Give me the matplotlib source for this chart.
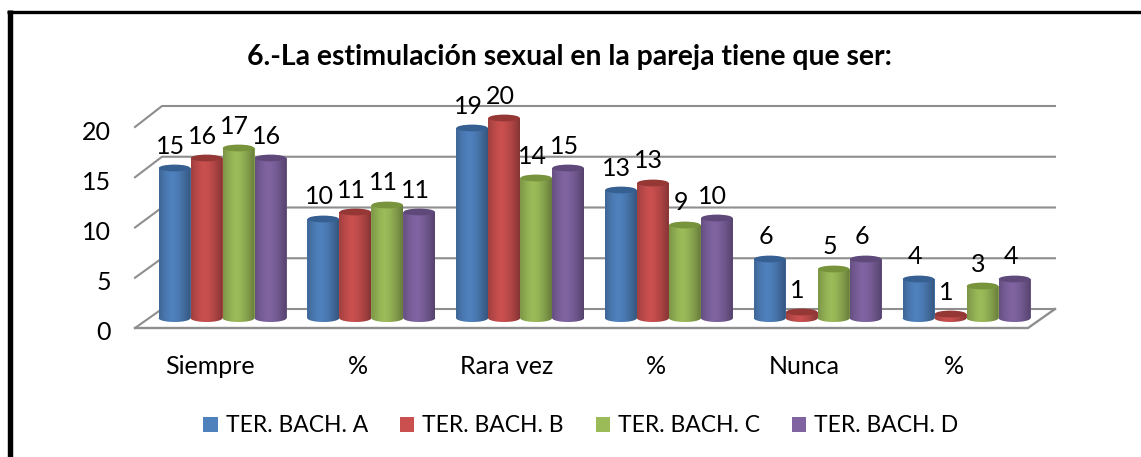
import numpy as np
import matplotlib
matplotlib.use('Agg')
import matplotlib.pyplot as plt
from matplotlib.patches import Ellipse, Polygon, Rectangle
from matplotlib.lines import Line2D

plt.rcParams['font.family'] = ['Lato', 'DejaVu Sans']

title = '6.-La estimulación sexual en la pareja tiene que ser:'
categories = ['Siempre', '%', 'Rara vez', '%', 'Nunca', '%']
series_names = ['TER. BACH. A', 'TER. BACH. B', 'TER. BACH. C', 'TER. BACH. D']
y_ticks = [0, 5, 10, 15, 20]

# heights
bach_a = [15, 9.9, 19, 12.8, 5.9, 3.9]
bach_b = [16, 10.6, 20, 13.5, 0.6, 0.4]
bach_c = [17, 11.3, 14, 9.3, 4.9, 3.2]
bach_d = [16, 10.6, 15, 10, 5.9, 3.9]

# printed data labels
labels_a = ['15', '10', '19', '13', '6', '4']
labels_b = ['16', '11', '20', '13', '1', '1']
labels_c = ['17', '11', '14', '9', '5', '3']
labels_d = ['16', '11', '15', '10', '6', '4']

all_values = [bach_a, bach_b, bach_c, bach_d]
all_labels = [labels_a, labels_b, labels_c, labels_d]
colors = ['#4F81BD', '#C9504F', '#9BBB59', '#8064A2']
top_colors = ['#376092', '#953735', '#77933C', '#5F497A']

W, H = 1141, 457
px_per_cat = 148.8
px_per_val = 10.0
x0_px = 222.5
y0_px = 318.0


def px_x(p):
    return (p - x0_px) / px_per_cat


def px_y(p):
    return (y0_px - p) / px_per_val


fig = plt.figure(figsize=(W / 100, H / 100), dpi=100)
ax = fig.add_axes([0, 0, 1, 1])
ax.axis('off')

# outer frame
fig.add_artist(Line2D([9.8 / W, 9.8 / W], [0, 1 - 10 / H], color='black', lw=3.9, solid_capstyle='butt'))
fig.add_artist(Line2D([7.3 / W, 1], [1 - 11.7 / H, 1 - 11.7 / H], color='black', lw=2.4, solid_capstyle='butt'))

# 3d floor and walls
grid_color = '#8E8E8E'
front_l, front_r = px_x(135), px_x(1028)
back_l, back_r = px_x(162), px_x(1055)
for v in y_ticks:
    yb = px_y(309) + v * 203 / 20 / px_per_val
    yf = px_y(328) + v * 201 / 20 / px_per_val
    ax.plot([front_l, back_l, back_r], [yf, yb, yb], color=grid_color, lw=1.5, zorder=1)
    ax.text(px_x(111), yf - 0.5, str(v), ha='right', va='center', fontsize=18)
ax.plot([back_r, front_r, front_l], [px_y(309), px_y(328), px_y(328)], color=grid_color, lw=1.7, zorder=1)

# cylinders
bar_w = 32 / px_per_cat
ry = 4.0 / px_per_val
offset = [-1.5 * bar_w, -0.5 * bar_w, 0.5 * bar_w, 1.5 * bar_w]
shade = np.zeros((1, 64, 4))
t = np.linspace(0, 1, 64)
shade[0, :, 3] = 0.34 * np.abs(t - 0.42) ** 1.5 / 0.58 ** 1.5
shade[0, :, :3] = 0.0
pos = np.arange(len(categories))
z = 3
for s in range(4):
    for i, v in enumerate(all_values[s]):
        cx = pos[i] + offset[s]
        ax.bar(cx, v, bar_w, color=colors[s], linewidth=0, zorder=z)
        th = np.linspace(np.pi, 2 * np.pi, 40)
        cap = np.column_stack([cx + bar_w / 2 * np.cos(th), ry * np.sin(th)])
        ax.add_patch(Polygon(cap, closed=True, fc=colors[s], ec='none', zorder=z))
        outline = np.vstack([cap, [[cx + bar_w / 2, v], [cx - bar_w / 2, v]]])
        clip = Polygon(outline, closed=True, transform=ax.transData)
        im = ax.imshow(shade, extent=[cx - bar_w / 2, cx + bar_w / 2, -ry, v], aspect='auto', zorder=z + 0.1)
        im.set_clip_path(clip)
        ax.add_patch(Ellipse((cx, v), bar_w * 0.98, 2 * ry * 0.85, fc=top_colors[s], ec='none', zorder=z + 0.2))
        ax.text(cx - 4 / px_per_cat, v + 22 / px_per_val, all_labels[s][i], ha='center', va='center',
                fontsize=18, zorder=20)
    z += 1

# category labels
for i, c in enumerate(categories):
    ax.text(pos[i] - 13 / px_per_cat, px_y(366), c, ha='center', va='center', fontsize=18)

ax.text(px_x(569), px_y(57), title, ha='center', va='center', fontsize=20.4, fontweight='bold')

handles = [Rectangle((0, 0), 1, 1, fc=c, ec='none') for c in colors]
ax.legend(handles, series_names, loc='center', bbox_to_anchor=(581 / W, 1 - 426 / H), ncol=4, frameon=False,
          fontsize=16.5, handlelength=0.62, handleheight=0.62, handletextpad=0.35, columnspacing=1.4)

ax.set_xlim(px_x(0), px_x(W))
ax.set_ylim(px_y(H), px_y(0))

fig.savefig('out.png', dpi=100)
